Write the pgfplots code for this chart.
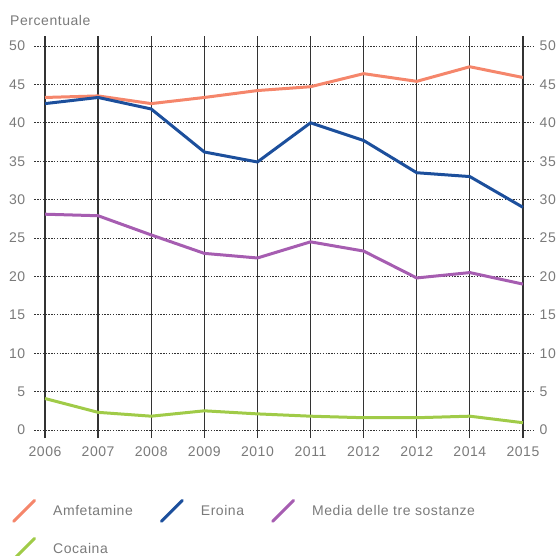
\documentclass[border=0pt]{standalone}
\usepackage{fontspec}
\setmainfont{Liberation Sans}[LetterSpace=4]
\usepackage{pgfplots}
\pgfplotsset{compat=1.18}
\definecolor{camf}{HTML}{F5866B}
\definecolor{cero}{HTML}{1C4F9C}
\definecolor{cmed}{HTML}{A65DB1}
\definecolor{ccoc}{HTML}{A0CB48}
\definecolor{ctxt}{HTML}{7A7A7A}
\definecolor{cgrid}{HTML}{333333}
\pgfplotsset{
  base/.style={
    x=53.1bp, y=7.68bp,
    xmin=-0.2, xmax=9.2, ymin=-1.04, ymax=51.3,
    axis line style={draw=none},
    major tick length=0pt,
    ytick={0,5,...,50},
    xtick={0,...,9},
    /pgf/number format/assume math mode=true,
    tick label style={font=\fontsize{14bp}{16bp}\selectfont, text=ctxt, inner sep=0pt},
  }
}
\begin{document}
\begin{tikzpicture}
\useasboundingbox (-34.4bp,-118bp) rectangle (523.6bp,438bp);
\begin{axis}[base,
  clip=false,
  xmajorgrids, ymajorgrids,
  x grid style={cgrid, line width=1.3bp},
  y grid style={cgrid, line width=1bp, dash pattern=on 1.4bp off 1.4bp},
  xticklabels={2006,2007,2008,2009,2010,2011,2012,2012,2014,2015},
  xticklabel style={anchor=north, yshift=-9bp},
  yticklabel style={anchor=east, xshift=-9bp},
  legend columns=3,
  legend cell align=left,
  legend style={at={(axis description cs:-0.045,-0.151)}, anchor=north west,
    draw=none, fill=none, inner sep=0pt, row sep=14bp,
    font=\fontsize{14bp}{16bp}\selectfont, text=ctxt,
    /tikz/every odd column/.append style={column sep=15bp},
    /tikz/every even column/.append style={column sep=25bp}},
  legend image code/.code={\draw[#1, line cap=round] (0bp,-10bp) -- (21bp,11bp);},
  every axis plot/.append style={line width=3bp, line join=round},
]
\addplot[camf] coordinates {(0,43.3) (1,43.5) (2,42.5) (3,43.3) (4,44.2) (5,44.7) (6,46.4) (7,45.4) (8,47.3) (9,45.9)};
\addlegendentry{Amfetamine}
\addplot[cero] coordinates {(0,42.5) (1,43.3) (2,41.8) (3,36.2) (4,34.9) (5,40.0) (6,37.7) (7,33.5) (8,33.0) (9,29.0)};
\addlegendentry{Eroina}
\addplot[cmed] coordinates {(0,28.1) (1,27.9) (2,25.4) (3,23.0) (4,22.4) (5,24.5) (6,23.3) (7,19.8) (8,20.5) (9,19.0)};
\addlegendentry{Media delle tre sostanze}
\addplot[ccoc] coordinates {(0,4.1) (1,2.3) (2,1.8) (3,2.5) (4,2.1) (5,1.8) (6,1.6) (7,1.6) (8,1.8) (9,0.95)};
\addlegendentry{Cocaina}
\node[anchor=base west, inner sep=0pt, text=ctxt, font=\fontsize{14bp}{16bp}\selectfont] at (axis description cs:-0.049,1.025) {Percentuale};
\end{axis}
\begin{axis}[base,
  xtick=\empty,
  yticklabel pos=right,
  yticklabel style={anchor=west, xshift=6bp},
]
\end{axis}
\end{tikzpicture}
\end{document}
